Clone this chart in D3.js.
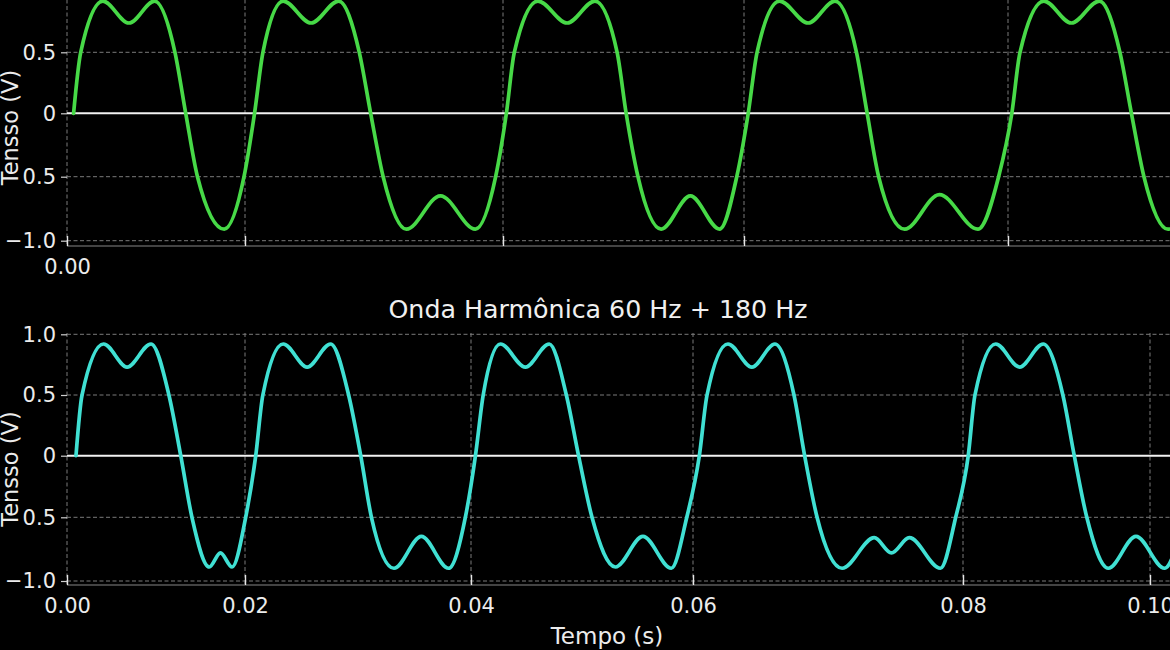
<!DOCTYPE html>
<html>
<head>
<meta charset="utf-8">
<script src="https://cdn.jsdelivr.net/npm/d3@7"></script>
<style>
  html, body { margin: 0; padding: 0; background: #000; }
  svg { display: block; }
</style>
</head>
<body>
<svg id="chart" width="1170" height="650"></svg>
<script>
// ---------------- DATA ----------------
const xTicks = [0.00, 0.02, 0.04, 0.06, 0.08, 0.10];
const yTicks = [-1.0, -0.5, 0, 0.5, 1.0];
const titleBottom = "Onda Harmônica 60 Hz + 180 Hz";
const xLabel = "Tempo (s)";
const yLabel = "Tensso (V)";

// upper panel (green)
const topTime = [
  0.00074, 0.00154, 0.00403, 0.00696, 0.00984, 0.01213, 0.01334, 0.01466, 0.01767, 0.01989,
  0.02074, 0.02139, 0.02296, 0.02512, 0.02726, 0.02886, 0.02974, 0.03071, 0.03251, 0.03515, 0.03786, 0.03943,
  0.04028, 0.04094, 0.04290, 0.04532, 0.04763, 0.04947, 0.05022, 0.05120, 0.05312, 0.05555, 0.05798, 0.05940,
  0.06032, 0.06099, 0.06270, 0.06486, 0.06689, 0.06852, 0.06933, 0.07020, 0.07217, 0.07480, 0.07772, 0.07929,
  0.08029, 0.08091, 0.08272, 0.08480, 0.08692, 0.08848, 0.08935, 0.09030, 0.09212, 0.09455
];
const topVolt = [
  0, 0.5, 0.92, 0.74, 0.92, 0.5, 0, -0.5, -0.91, -0.5,
  0, 0.5, 0.92, 0.74, 0.92, 0.5, 0, -0.5, -0.91, -0.65, -0.91, -0.5,
  0, 0.5, 0.92, 0.74, 0.92, 0.5, 0, -0.5, -0.91, -0.65, -0.91, -0.5,
  0, 0.5, 0.92, 0.74, 0.92, 0.5, 0, -0.5, -0.91, -0.64, -0.91, -0.5,
  0, 0.5, 0.92, 0.74, 0.92, 0.5, 0, -0.5, -0.91, -0.65
];

// lower panel (cyan)
const botTime = [
  0.00101, 0.00169, 0.00411, 0.00675, 0.00944, 0.01145, 0.01278, 0.01404, 0.01599, 0.01724, 0.01855, 0.02006,
  0.02095, 0.02158, 0.02338, 0.02550, 0.02758, 0.02917, 0.03024, 0.03119, 0.03318, 0.03561, 0.03802, 0.03950,
  0.04040, 0.04110, 0.04265, 0.04490, 0.04705, 0.04859, 0.04969, 0.05090, 0.05301, 0.05549, 0.05805, 0.05944,
  0.06047, 0.06104, 0.06259, 0.06436, 0.06607, 0.06748, 0.06827, 0.06919, 0.07104, 0.07343, 0.07470, 0.07602, 0.07833, 0.07946,
  0.08056, 0.08128, 0.08350, 0.08605, 0.08858, 0.09068, 0.09190, 0.09324, 0.09553, 0.09850, 0.10156, 0.10321
];
const botVolt = [
  0, 0.5, 0.92, 0.73, 0.92, 0.5, 0, -0.5, -0.89, -0.78, -0.89, -0.5,
  0, 0.5, 0.92, 0.73, 0.92, 0.5, 0, -0.5, -0.90, -0.65, -0.90, -0.5,
  0, 0.5, 0.92, 0.73, 0.92, 0.5, 0, -0.5, -0.89, -0.65, -0.90, -0.5,
  0, 0.5, 0.92, 0.73, 0.92, 0.5, 0, -0.5, -0.90, -0.66, -0.78, -0.66, -0.90, -0.5,
  0, 0.5, 0.92, 0.73, 0.92, 0.5, 0, -0.5, -0.90, -0.65, -0.90, -0.64
];

// ---------------- DRAWING ----------------
const W = 1170, H = 650;
const FONT = "'DejaVu Sans', 'Liberation Sans', sans-serif";
const svg = d3.select("#chart");
svg.append("rect").attr("width", W).attr("height", H).attr("fill", "#000");

const fmtY = v => v === 0 ? "0" : d3.format(".1f")(v);
const fmtX = d3.format(".2f");

function drawPanel(cfg) {
  const g = svg.append("g");
  const x = d3.scaleLinear().domain(cfg.xDomain).range(cfg.xRange);
  const y = d3.scaleLinear().domain(cfg.yDomain).range(cfg.yRange);
  const left = cfg.xRange[0];
  const yVis = yTicks.filter(v => y(v) >= 0);

  // grid
  const grid = g.append("g").attr("stroke", "#7a7a7a").attr("stroke-width", 1)
    .attr("stroke-dasharray", "4,2.5").attr("fill", "none");
  grid.selectAll("line.v").data(xTicks).join("line")
    .attr("x1", d => x(d)).attr("x2", d => x(d))
    .attr("y1", cfg.top).attr("y2", cfg.spineY);
  grid.selectAll("line.h").data(yVis.filter(v => v !== 0)).join("line")
    .attr("x1", left).attr("x2", W)
    .attr("y1", d => y(d)).attr("y2", d => y(d));

  // zero line
  g.append("line").attr("x1", left).attr("x2", W)
    .attr("y1", y(0)).attr("y2", y(0))
    .attr("stroke", "#f2f2f2").attr("stroke-width", 2);

  // wave
  const pts = cfg.time.map((t, i) => [t, cfg.volt[i]]);
  const line = d3.line().x(d => x(d[0])).y(d => y(d[1])).curve(d3.curveMonotoneX);
  g.append("path").datum(pts).attr("d", line)
    .attr("fill", "none").attr("stroke", cfg.color)
    .attr("stroke-width", 3.7).attr("stroke-linejoin", "round").attr("stroke-linecap", "round");

  // bottom spine
  g.append("line").attr("x1", left).attr("x2", W)
    .attr("y1", cfg.spineY).attr("y2", cfg.spineY)
    .attr("stroke", "#5a5a5a").attr("stroke-width", 1.5);

  // x axis
  const xAxis = d3.axisBottom(x).tickValues(xTicks)
    .tickSizeInner(-10).tickSizeOuter(0).tickPadding(13)
    .tickFormat((d, i) => cfg.showAllX || i === 0 ? fmtX(d) : "");
  const gx = g.append("g").attr("transform", `translate(0,${cfg.spineY})`).call(xAxis);
  gx.select(".domain").remove();
  gx.selectAll(".tick line").attr("stroke", "#e6e6e6").attr("stroke-width", 1.4);
  gx.selectAll(".tick text").attr("fill", "#ececec")
    .style("font-family", FONT).style("font-size", "21px");

  // y axis
  const yAxis = d3.axisLeft(y).tickValues(yVis)
    .tickSize(6).tickPadding(5).tickFormat(fmtY);
  const gy = g.append("g").attr("transform", `translate(${left},0)`).call(yAxis);
  gy.select(".domain").remove();
  gy.selectAll(".tick line").attr("stroke", "#cfcfcf").attr("stroke-width", 1.2);
  gy.selectAll(".tick text").attr("fill", "#ececec")
    .style("font-family", FONT).style("font-size", "21px");

  // y label
  g.append("text")
    .attr("transform", `translate(18,${cfg.yLabelY}) rotate(-90)`)
    .attr("text-anchor", "middle")
    .attr("fill", "#ececec")
    .attr("stroke", "#000").attr("stroke-width", 6).attr("paint-order", "stroke")
    .style("font-family", FONT).style("font-size", "22.5px")
    .text(yLabel);

  return { x, y };
}

// upper panel
drawPanel({
  xDomain: xTicks.slice(0, 5), xRange: [67, 245, 503, 744, 1008],
  yDomain: [-1.0, -0.5, 0, 0.5], yRange: [240.7, 176.7, 113.3, 52.3],
  top: -20, spineY: 246, color: "#47d947",
  time: topTime, volt: topVolt, showAllX: false, yLabelY: 127.5
});

// lower panel
drawPanel({
  xDomain: xTicks, xRange: [67, 245, 471, 693, 963, 1150],
  yDomain: yTicks, yRange: [581, 517.3, 455.7, 395, 334.3],
  top: 333, spineY: 585, color: "#40e0d3",
  time: botTime, volt: botVolt, showAllX: true, yLabelY: 469
});

// title of lower panel
svg.append("text").attr("x", 598).attr("y", 318)
  .attr("text-anchor", "middle").attr("fill", "#f0f0f0")
  .style("font-family", FONT).style("font-size", "25.3px")
  .text(titleBottom);

// x label
svg.append("text").attr("x", 607).attr("y", 644)
  .attr("text-anchor", "middle").attr("fill", "#ececec")
  .style("font-family", FONT).style("font-size", "23px")
  .text(xLabel);
</script>
</body>
</html>
